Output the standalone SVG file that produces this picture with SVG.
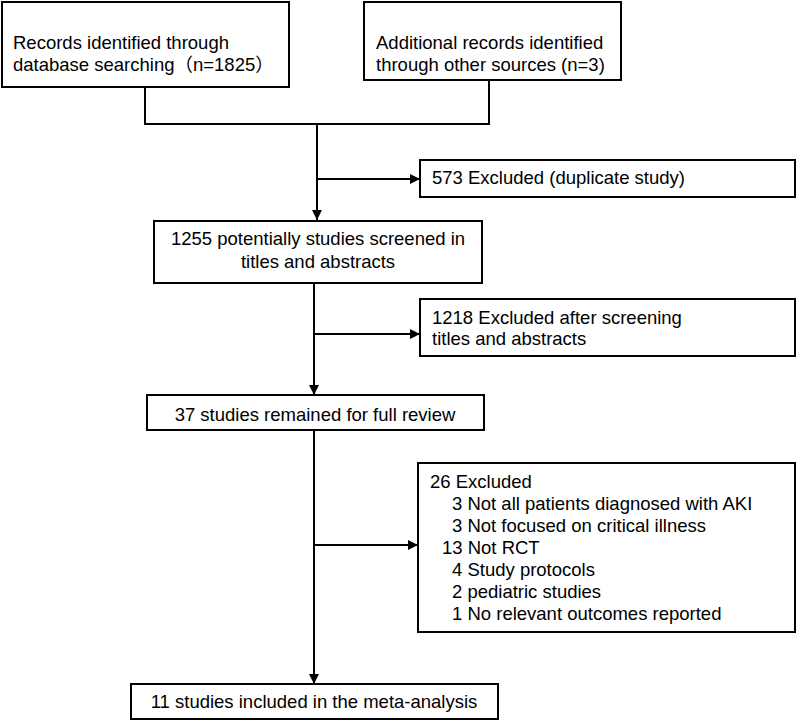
<svg xmlns="http://www.w3.org/2000/svg" width="797" height="721" viewBox="0 0 797 721">
<style>
.box{fill:#fff;stroke:#000;stroke-width:2}
.t{font-family:"Liberation Sans",Arial,"Noto Sans CJK SC",sans-serif;font-size:18.5px;fill:#000}
.c{text-anchor:middle}
.ln{fill:none;stroke:#000;stroke-width:2}
</style>
<defs>
<marker id="ah" viewBox="0 0 10 10" refX="10" refY="5" markerWidth="5" markerHeight="5" orient="auto" markerUnits="strokeWidth">
<path d="M0,0 L10,5 L0,10 Z" fill="#000"/>
</marker>
</defs>
<rect width="797" height="721" fill="#fff"/>
<g id="connectors">
<path class="ln" d="M145,87 V124 H489 V80"/>
<path class="ln" d="M317,124 V220" marker-end="url(#ah)"/>
<path class="ln" d="M317,179 H420" marker-end="url(#ah)"/>
<path class="ln" d="M314,283 V395" marker-end="url(#ah)"/>
<path class="ln" d="M314,334 H420" marker-end="url(#ah)"/>
<path class="ln" d="M314,430 V684" marker-end="url(#ah)"/>
<path class="ln" d="M314,545 H418" marker-end="url(#ah)"/>
</g>
<g id="n1">
<rect class="box" x="2" y="2" width="287" height="85"/>
<text class="t" x="13" y="48.5">Records identified through</text>
<text class="t" x="13" y="71">database searching（n=1825）</text>
</g>
<g id="n2">
<rect class="box" x="364" y="2" width="257" height="78"/>
<text class="t" x="376" y="48.5">Additional records identified</text>
<text class="t" x="376" y="71">through other sources (n=3)</text>
</g>
<g id="n3">
<rect class="box" x="420" y="160" width="375" height="37"/>
<text class="t" x="432" y="184">573 Excluded (duplicate study)</text>
</g>
<g id="n4">
<rect class="box" x="154" y="221" width="328" height="62"/>
<text class="t c" x="318" y="245">1255 potentially studies screened in</text>
<text class="t c" x="318" y="268">titles and abstracts</text>
</g>
<g id="n5">
<rect class="box" x="420" y="299" width="375" height="57"/>
<text class="t" x="432" y="324">1218 Excluded after screening</text>
<text class="t" x="432" y="345"> titles and abstracts</text>
</g>
<g id="n6">
<rect class="box" x="147" y="395" width="337" height="35"/>
<text class="t c" x="315" y="420.5">37 studies remained for full review</text>
</g>
<g id="n7">
<rect class="box" x="418" y="463" width="377" height="169"/>
<text class="t" x="430" y="488">26 Excluded</text>
<text class="t" x="452" y="510">3 Not all patients diagnosed with AKI</text>
<text class="t" x="452" y="532">3 Not focused on critical illness</text>
<text class="t" x="442" y="554">13 Not RCT</text>
<text class="t" x="452" y="576">4 Study protocols</text>
<text class="t" x="452" y="598">2 pediatric studies</text>
<text class="t" x="452" y="620">1 No relevant outcomes reported</text>
</g>
<g id="n8">
<rect class="box" x="131" y="684" width="367" height="35"/>
<text class="t c" x="314" y="708">11 studies included in the meta-analysis</text>
</g>
</svg>
